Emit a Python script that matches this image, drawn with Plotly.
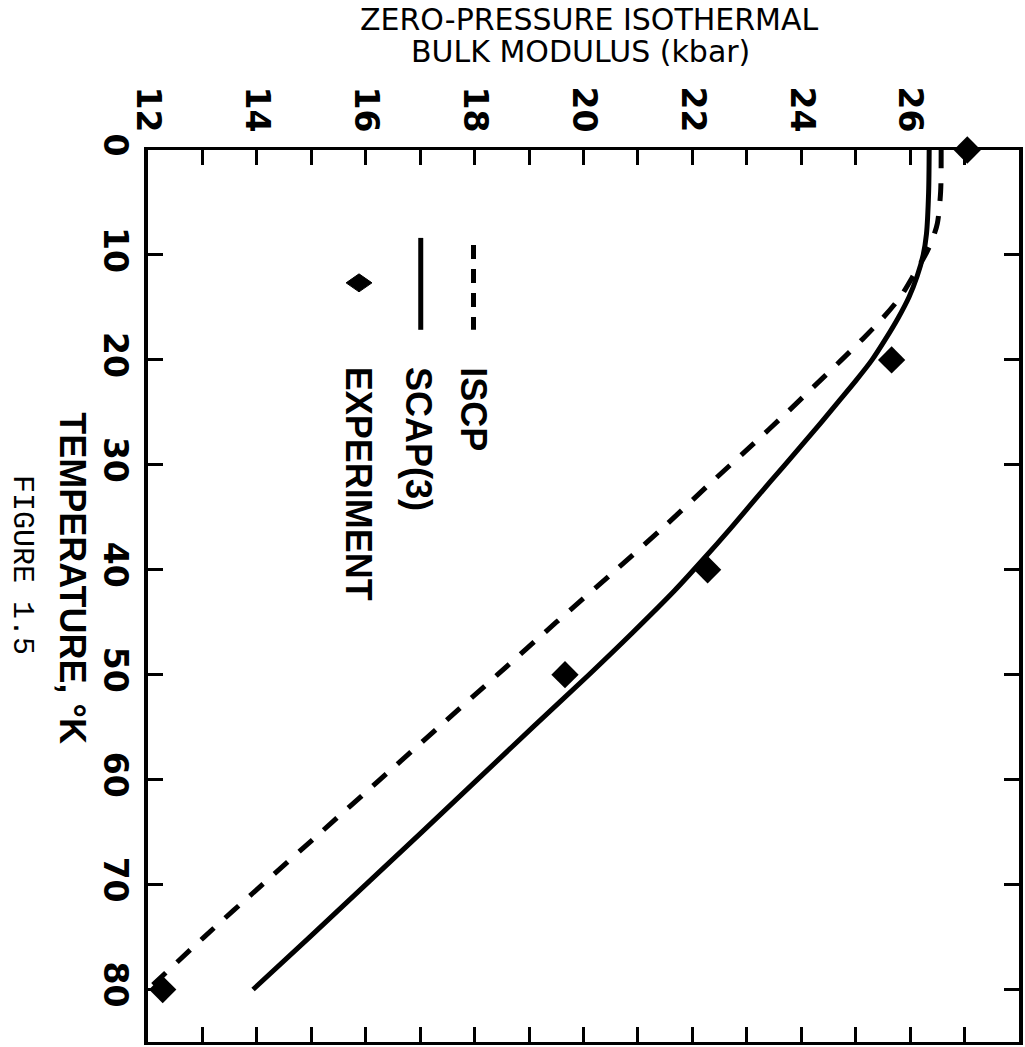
import plotly.graph_objects as go

# ---- data ----
scap_T = [0, 4, 8, 10, 12, 14, 16, 18, 20, 22, 24, 26, 28, 30, 33, 36, 39, 42, 46, 50, 55, 60, 65, 70, 75, 80]
scap_B = [26.35, 26.34, 26.3, 26.24, 26.13, 25.98, 25.78, 25.55, 25.3, 25.0, 24.68, 24.36, 24.03, 23.7,
          23.2, 22.71, 22.2, 21.67, 20.9, 20.1, 19.07, 18.05, 17.03, 16.0, 14.97, 13.93]

iscp_T = [0, 4, 7, 8.5, 10, 11.6, 14, 16, 18, 20, 22.5, 25, 28, 32, 36, 40, 45, 50, 55, 60, 65, 70, 75, 80]
iscp_B = [26.57, 26.56, 26.5, 26.41, 26.28, 26.1, 25.82, 25.5, 25.13, 24.74, 24.24, 23.74, 23.12, 22.28,
          21.46, 20.6, 19.5, 18.42, 17.34, 16.26, 15.18, 14.1, 13.03, 12.0]

exp_T = [0, 20, 40, 50, 80]
exp_B = [27.05, 25.66, 22.28, 19.66, 12.27]

x_ticks = [12, 14, 16, 18, 20, 22, 24, 26]
y_ticks = [0, 10, 20, 30, 40, 50, 60, 70, 80]

# ---- layout geometry (pixels) ----
W, H = 1025, 1047
L, R, T, B = 148, 2, 150, 4
PW, PH = W - L - R, H - T - B


def px(xp):
    return (xp - L) / PW


def py(yp):
    return (H - B - yp) / PH


fig = go.Figure()

fig.add_trace(go.Scatter(x=iscp_B, y=iscp_T, mode="lines", name="ISCP",
                         line=dict(color="black", width=5, dash="18px,15px", shape="spline", smoothing=0.8)))
fig.add_trace(go.Scatter(x=scap_B, y=scap_T, mode="lines", name="SCAP(3)",
                         line=dict(color="black", width=5, shape="spline", smoothing=0.8)))
fig.add_trace(go.Scatter(x=exp_B, y=exp_T, mode="markers", name="EXPERIMENT",
                         marker=dict(symbol="diamond", size=21, color="black"),
                         cliponaxis=False))

tickfont = dict(family="DejaVu Sans", size=33, color="black", weight="bold")

fig.update_xaxes(range=[12, 28], side="top", tickvals=x_ticks, tickangle=90,
                 ticks="inside", ticklen=15, tickwidth=3, tickcolor="black",
                 minor=dict(dtick=1, tick0=12, ticks="inside", ticklen=15, tickwidth=3, tickcolor="black"),
                 showline=True, linewidth=3, linecolor="black", mirror="ticks",
                 showgrid=False, zeroline=False, tickfont=tickfont, ticklabelstandoff=3)
fig.update_yaxes(range=[85, 0], tickvals=y_ticks, tickangle=90,
                 ticks="inside", ticklen=15, tickwidth=3, tickcolor="black",
                 showline=True, linewidth=4, linecolor="black", mirror="ticks",
                 showgrid=False, zeroline=False, tickfont=tickfont, ticklabelstandoff=0)

ann = []
# top title (horizontal)
ann.append(dict(text="ZERO-PRESSURE ISOTHERMAL", x=px(591), y=py(19), xref="paper", yref="paper",
                xanchor="center", yanchor="middle",
                showarrow=False, font=dict(family="DejaVu Sans", size=30, color="black")))
ann.append(dict(text="BULK MODULUS (kbar)", x=px(582), y=py(51), xref="paper", yref="paper",
                xanchor="center", yanchor="middle",
                showarrow=False, font=dict(family="DejaVu Sans", size=30, color="black")))
# left axis title (rotated)
ann.append(dict(text="TEMPERATURE, °K", x=px(72), y=py(579), xref="paper", yref="paper",
                xanchor="center", yanchor="middle", showarrow=False, textangle=90,
                font=dict(family="Liberation Sans", size=36, color="black", weight="bold")))
ann.append(dict(text="FIGURE 1.5", x=px(22), y=py(565), xref="paper", yref="paper",
                xanchor="center", yanchor="middle", showarrow=False, textangle=90,
                font=dict(family="Liberation Mono", size=30, color="black")))
# legend labels (rotated)
for label, xc in [("ISCP", 475), ("SCAP(3)", 419), ("EXPERIMENT", 359)]:
    ann.append(dict(text=label, x=px(xc), y=py(365), xref="paper", yref="paper",
                    xanchor="center", yanchor="top", showarrow=False, textangle=90,
                    font=dict(family="Liberation Sans", size=36, color="black", weight="bold")))

shapes = [
    dict(type="line", xref="paper", yref="paper", x0=px(475), x1=px(475), y0=py(245), y1=py(330),
         line=dict(color="black", width=5, dash="14px,10px")),
    dict(type="line", xref="paper", yref="paper", x0=px(422), x1=px(422), y0=py(238), y1=py(330),
         line=dict(color="black", width=5)),
    dict(type="path", xref="paper", yref="paper", fillcolor="black", line=dict(color="black", width=1),
         path=f"M {px(347)},{py(283)} L {px(360)},{py(274)} L {px(373)},{py(283)} L {px(360)},{py(292)} Z"),
]

fig.update_layout(width=W, height=H, margin=dict(l=L, r=R, t=T, b=B, pad=0),
                  paper_bgcolor="white", plot_bgcolor="white", showlegend=False,
                  annotations=ann, shapes=shapes)

fig.write_html("out.html")
